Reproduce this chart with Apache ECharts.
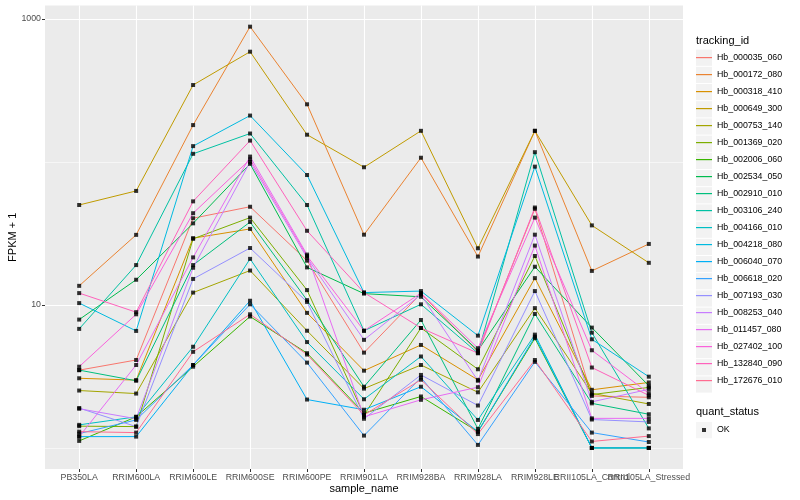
<!DOCTYPE html>
<html><head><meta charset="utf-8">
<script src="https://cdn.jsdelivr.net/npm/echarts@6/dist/echarts.min.js"></script>
<style>html,body{margin:0;padding:0;background:#fff}#c{width:800px;height:500px}</style>
</head><body><div id="c"></div>
<script>
const categories = ['PB350LA','RRIM600LA','RRIM600LE','RRIM600SE','RRIM600PE','RRIM901LA','RRIM928BA','RRIM928LA','RRIM928LE','RRII105LA_Control','RRII105LA_Stressed'];

const Hb_000035_060 = [3.5, 4.12, 40.4, 48.6, 20.4, 4.64, 12.0, 4.7, 47, 2.31, 2.26];
const Hb_000172_080 = [13.6, 30.9, 181, 883, 253, 31, 107, 21.8, 165, 17.3, 26.7];
const Hb_000318_410 = [3.07, 2.98, 29.3, 34, 8.8, 3.47, 5.25, 2.99, 15.4, 2.55, 2.87];
const Hb_000649_300 = [50, 62.7, 345, 590, 155, 91.8, 165, 24.9, 165, 36, 19.7];
const Hb_000753_140 = [2.52, 2.4, 12.2, 17.4, 6.6, 2.6, 3.8, 2.45, 9.5, 2.41, 2.03];
const Hb_001369_020 = [1.42, 1.41, 29, 40.8, 12.7, 1.7, 6.9, 3.55, 22, 2.36, 2.65];
const Hb_002006_060 = [1.12, 1.65, 3.7, 8.3, 4.6, 1.75, 2.29, 1.3, 5.85, 1.0, 1.0];
const Hb_002534_050 = [7.9, 15, 37.2, 97, 18.3, 12.0, 11.4, 4.8, 18.5, 6.94, 2.72];
const Hb_002910_010 = [3.5, 2.95, 19, 38, 10.8, 2.68, 7.85, 1.36, 8.65, 2.05, 1.72];
const Hb_003106_240 = [6.8, 19, 114, 158, 50, 6.6, 10.1, 4.6, 117, 6.4, 1.37];
const Hb_004166_010 = [1.45, 1.65, 5.1, 21, 5.5, 2.19, 4.36, 1.57, 6.2, 1.0, 1.0];
const Hb_004218_080 = [10.3, 6.58, 129, 211, 81, 12.2, 12.5, 6.1, 92.7, 5.75, 3.15];
const Hb_006040_070 = [1.2, 1.2, 3.8, 10.7, 2.18, 1.85, 2.68, 1.3, 6.0, 1.0, 1.0];
const Hb_006618_020 = [1.26, 1.57, 3.8, 10.1, 3.95, 1.22, 3.1, 1.05, 4.0, 1.28, 1.1];
const Hb_007193_030 = [1.9, 1.41, 15.2, 25, 10.5, 1.6, 3.24, 1.98, 12.5, 1.58, 1.52];
const Hb_008253_040 = [1.88, 1.6, 18.2, 100, 21.4, 5.7, 11.8, 2.95, 31, 2.1, 2.57];
const Hb_011457_080 = [1.2, 3.8, 21.5, 109, 22.5, 1.65, 2.17, 2.66, 26, 1.61, 1.61];
const Hb_027402_100 = [3.7, 8.6, 43.8, 104, 22, 6.6, 12.1, 4.98, 40.8, 4.82, 2.41];
const Hb_132840_090 = [12.1, 8.9, 53, 141, 33, 12.2, 6.9, 4.6, 48, 3.65, 2.33];
const Hb_172676_010 = [1.3, 1.28, 4.7, 8.6, 4.5, 1.7, 3.0, 1.25, 4.12, 1.11, 1.21];

const seriesNames = ['Hb_000035_060','Hb_000172_080','Hb_000318_410','Hb_000649_300','Hb_000753_140','Hb_001369_020','Hb_002006_060','Hb_002534_050','Hb_002910_010','Hb_003106_240','Hb_004166_010','Hb_004218_080','Hb_006040_070','Hb_006618_020','Hb_007193_030','Hb_008253_040','Hb_011457_080','Hb_027402_100','Hb_132840_090','Hb_172676_010'];
const seriesValues = [Hb_000035_060,Hb_000172_080,Hb_000318_410,Hb_000649_300,Hb_000753_140,Hb_001369_020,Hb_002006_060,Hb_002534_050,Hb_002910_010,Hb_003106_240,Hb_004166_010,Hb_004218_080,Hb_006040_070,Hb_006618_020,Hb_007193_030,Hb_008253_040,Hb_011457_080,Hb_027402_100,Hb_132840_090,Hb_172676_010];
const statusName = 'OK';
const yMajorTicks = [10, 1000];
const yMinorTicks = [1, 100];

const colors = ['#F8766D','#EA8331','#D89000','#C09B00','#A3A500','#7CAE00','#39B600','#00BB4E','#00BF7D','#00C1A3','#00BFC4','#00BAE0','#00B0F6','#35A2FF','#9590FF','#C77CFF','#E76BF3','#FA62DB','#FF62BC','#FF6C91'];
const FONT = 'Liberation Sans, Arial, Helvetica, sans-serif';
const catIdx = categories.map((c, i) => i);
const evenIdx = catIdx.filter(i => i % 2 === 0);
const oddIdx = catIdx.filter(i => i % 2 === 1);

const allVals = seriesValues.flat();
const lmin = Math.log10(Math.min(...allVals)), lmax = Math.log10(Math.max(...allVals));
const pad = (lmax - lmin) * 0.05;
const yMin = Math.pow(10, lmin - pad), yMax = Math.pow(10, lmax + pad);
const xMin = -0.6, xMax = categories.length - 1 + 0.6;

const lineSeries = seriesNames.map((n, k) => ({
  name: n, type: 'line', xAxisIndex: 0, yAxisIndex: 0,
  data: seriesValues[k].map((v, i) => [i, v]),
  showSymbol: false, symbol: 'none', silent: true, animation: false,
  lineStyle: { width: 1, color: colors[k] },
  itemStyle: { color: colors[k] }, z: 2
}));
const pointSeries = {
  name: statusName, type: 'scatter', xAxisIndex: 0, yAxisIndex: 0,
  data: seriesValues.flatMap(arr => arr.map((v, i) => [i, v])),
  symbol: 'rect', symbolSize: 4, itemStyle: { color: '#000' },
  silent: true, animation: false, z: 3
};

function xAxisFor(idx, withName) {
  const ax = {
    type: 'value', min: xMin, max: xMax, position: 'bottom', offset: 0,
    axisLine: { show: false, onZero: false },
    axisTick: { show: true, customValues: idx, length: 3, lineStyle: { color: '#333', width: 1 } },
    axisLabel: { customValues: idx, formatter: v => categories[Math.round(v)], fontSize: 8.8, color: '#4D4D4D', margin: 4, fontFamily: FONT,
      hideOverlap: false, showMinLabel: true, showMaxLabel: true },
    splitLine: { show: true, lineStyle: { color: '#fff', width: 1.1 } }
  };
  if (withName) {
    ax.name = 'sample_name'; ax.nameLocation = 'middle'; ax.nameGap = 14; ax.nameMoveOverlap = false;
    ax.nameTextStyle = { fontSize: 11, color: '#000', fontFamily: FONT };
  }
  return ax;
}

const lineIcon = 'path://M0,0M16,16M0,7.4H16V8.6H0Z';
const dotIcon = 'path://M0,0M16,16M6,6H10V10H6Z';
const legTop = 49.6;

const chart = echarts.init(document.getElementById('c'), null, { renderer: 'canvas' });
chart.setOption({
  animation: false,
  backgroundColor: '#fff',
  textStyle: { fontFamily: FONT },
  title: [
    { text: 'tracking_id', left: 696, top: 35, padding: 0, textStyle: { fontSize: 11, fontWeight: 'normal', color: '#000', fontFamily: FONT } },
    { text: 'quant_status', left: 696, top: 406, padding: 0, textStyle: { fontSize: 11, fontWeight: 'normal', color: '#000', fontFamily: FONT } }
  ],
  grid: { left: 45, right: 117, top: 5.6, bottom: 31, show: true, backgroundColor: '#EBEBEB', borderWidth: 0, containLabel: false, outerBoundsMode: 'none' },
  xAxis: [xAxisFor(evenIdx, true), xAxisFor(oddIdx, false)],
  yAxis: [
    {
      type: 'log', logBase: 10, min: yMin, max: yMax, position: 'left', offset: 0,
      axisLine: { show: false, onZero: false },
      axisTick: { show: false, customValues: yMinorTicks },
      axisLabel: { show: false, customValues: yMinorTicks },
      splitLine: { show: true, lineStyle: { color: '#fff', width: 0.55 } }
    },
    {
      type: 'log', logBase: 10, min: yMin, max: yMax, position: 'left', offset: 0,
      axisLine: { show: false, onZero: false },
      axisTick: { show: true, customValues: yMajorTicks, length: 3, lineStyle: { color: '#333', width: 1 } },
      axisLabel: { customValues: yMajorTicks, formatter: v => String(Math.round(v)), fontSize: 8.8, color: '#4D4D4D', margin: 4, fontFamily: FONT,
        showMinLabel: true, showMaxLabel: true },
      splitLine: { show: true, lineStyle: { color: '#fff', width: 1.1 } },
      name: 'FPKM + 1', nameLocation: 'middle', nameGap: 27, nameMoveOverlap: false,
      nameTextStyle: { fontSize: 11, color: '#000', fontFamily: FONT }
    }
  ],
  legend: [
    { data: seriesNames, orient: 'vertical', left: 696, top: legTop, itemWidth: 16, itemHeight: 16.2, itemGap: 1, icon: 'rect',
      itemStyle: { color: '#F2F2F2' }, formatter: () => '', selectedMode: false, padding: 0, z: 1 },
    { data: seriesNames, orient: 'vertical', left: 696, top: legTop, itemWidth: 16, itemHeight: 16.2, itemGap: 1, icon: lineIcon,
      textStyle: { fontSize: 8.8, color: '#000', fontFamily: FONT }, selectedMode: false, padding: 0, z: 2 },
    { data: [statusName], orient: 'vertical', left: 696, top: 422, itemWidth: 16, itemHeight: 16.2, icon: 'rect',
      itemStyle: { color: '#F2F2F2' }, formatter: () => '', selectedMode: false, padding: 0, z: 1 },
    { data: [statusName], orient: 'vertical', left: 696, top: 422, itemWidth: 16, itemHeight: 16.2, icon: dotIcon,
      textStyle: { fontSize: 8.8, color: '#000', fontFamily: FONT }, selectedMode: false, padding: 0, z: 2 }
  ],
  series: [...lineSeries, pointSeries]
});
</script>
</body></html>
